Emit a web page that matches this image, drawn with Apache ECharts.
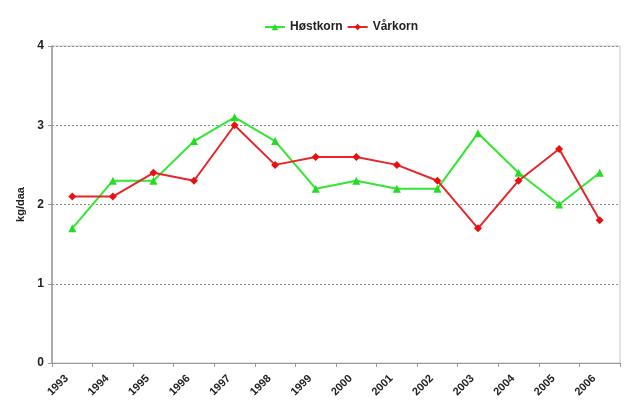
<!DOCTYPE html>
<html>
<head>
<meta charset="utf-8">
<script src="https://cdn.jsdelivr.net/npm/echarts@6/dist/echarts.min.js"></script>
<style>
  html, body { margin: 0; padding: 0; background: #fff; }
  #chart { width: 625px; height: 406px; }
</style>
</head>
<body>
<div id="chart"></div>
<script>
// Yield per decare, 1993–2006
const years = ['1993','1994','1995','1996','1997','1998','1999','2000','2001','2002','2003','2004','2005','2006'];
const hostkorn = [1.7, 2.3, 2.3, 2.8, 3.1, 2.8, 2.2, 2.3, 2.2, 2.2, 2.9, 2.4, 2.0, 2.4];
const varkorn  = [2.1, 2.1, 2.4, 2.3, 3.0, 2.5, 2.6, 2.6, 2.5, 2.3, 1.7, 2.3, 2.7, 1.8];
const yTicks = [0, 1, 2, 3, 4];

const font = 'Liberation Sans, Arial, sans-serif';
const chart = echarts.init(document.getElementById('chart'), null, { renderer: 'canvas' });

chart.setOption({
  backgroundColor: '#ffffff',
  animation: false,
  textStyle: { fontFamily: font },
  legend: {
    top: 16,
    left: 259,
    itemWidth: 20,
    itemHeight: 8,
    itemGap: 4,
    textStyle: { fontFamily: font, fontWeight: 'bold', fontSize: 12, color: '#222' },
    data: ['Høstkorn', 'Vårkorn']
  },
  grid: {
    left: 52, right: 5, top: 46, bottom: 43,
    show: true, borderColor: '#c4c4c4', borderWidth: 1
  },
  xAxis: {
    type: 'category',
    data: years,
    boundaryGap: true,
    axisLine: { lineStyle: { color: '#999', width: 1 } },
    axisTick: { show: true, length: 4, lineStyle: { color: '#999' } },
    axisLabel: {
      rotate: 45, fontFamily: font, fontWeight: 'bold', fontSize: 11,
      color: '#222', margin: 8, padding: [0, 8, 0, 0]
    },
    splitLine: { show: false }
  },
  yAxis: {
    type: 'value',
    min: yTicks[0], max: yTicks[yTicks.length - 1], interval: 1,
    name: 'kg/daa',
    nameLocation: 'middle',
    nameGap: 25,
    nameRotate: 90,
    nameTextStyle: { fontFamily: font, fontWeight: 'bold', fontSize: 11, color: '#222' },
    axisLine: { show: true, lineStyle: { color: '#999', width: 1.5 } },
    axisTick: { show: true, length: 4, lineStyle: { color: '#999' } },
    axisLabel: { fontFamily: font, fontWeight: 'bold', fontSize: 12, color: '#222', margin: 8 },
    splitLine: { show: true, lineStyle: { color: '#8a8a8a', type: [2, 2], width: 1 } }
  },
  series: [
    {
      name: 'Høstkorn',
      type: 'line',
      data: hostkorn,
      symbol: 'triangle',
      symbolSize: 8,
      lineStyle: { color: '#33e633', width: 2 },
      itemStyle: { color: '#22dd22' }
    },
    {
      name: 'Vårkorn',
      type: 'line',
      data: varkorn,
      symbol: 'diamond',
      symbolSize: 8,
      lineStyle: { color: '#e8262a', width: 2 },
      itemStyle: { color: '#e81010' }
    }
  ]
});
</script>
</body>
</html>
